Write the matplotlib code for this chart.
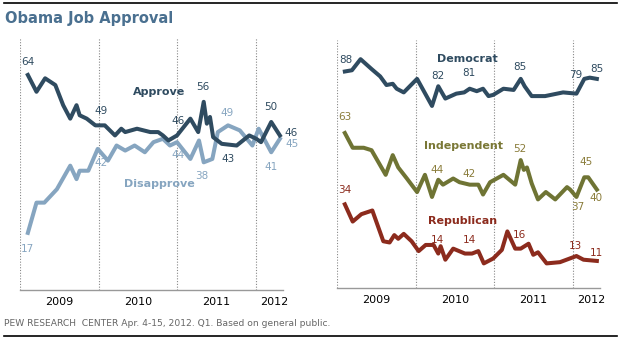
import matplotlib.pyplot as plt
from matplotlib.lines import Line2D

# survey dates as decimal years
approve_x = [2009.10, 2009.21, 2009.32, 2009.45, 2009.55, 2009.64, 2009.72, 2009.76,
             2009.85, 2009.96, 2010.08, 2010.21, 2010.29, 2010.34, 2010.49, 2010.66,
             2010.76, 2010.82, 2010.89, 2011.00, 2011.17, 2011.27, 2011.34, 2011.38,
             2011.42, 2011.46, 2011.57, 2011.76, 2011.92, 2012.01, 2012.07, 2012.20,
             2012.31]
approve = [64, 59, 63, 61, 55, 51, 55, 52, 51, 49, 49, 46, 48, 47, 48, 47,
           47, 46, 44.5, 46, 51, 47, 56, 49.5, 51.5, 45.5, 43.5, 43, 46, 45, 44, 50, 46]

disapprove_x = [2009.10, 2009.21, 2009.31, 2009.47, 2009.64, 2009.72, 2009.76, 2009.87,
                2009.99, 2010.12, 2010.23, 2010.34, 2010.46, 2010.59, 2010.70, 2010.82,
                2010.91, 2011.00, 2011.17, 2011.28, 2011.34, 2011.45, 2011.52, 2011.65,
                2011.80, 2011.96, 2012.04, 2012.20, 2012.31]
disapprove = [17, 26, 26, 30, 37, 33, 35.5, 35.5, 42, 38.5, 43, 41.5, 43, 41, 44, 45,
              43, 44, 39, 44.5, 38, 39, 47, 49, 47.5, 43, 48, 41, 45]

dem_x = [2009.10, 2009.19, 2009.30, 2009.44, 2009.55, 2009.63, 2009.71, 2009.76,
         2009.85, 2010.02, 2010.21, 2010.29, 2010.38, 2010.52, 2010.62, 2010.69,
         2010.78, 2010.86, 2010.93, 2010.99, 2011.12, 2011.25, 2011.34, 2011.39,
         2011.48, 2011.65, 2011.88, 2012.05, 2012.15, 2012.22, 2012.31]
dem = [88, 88.5, 93, 89, 86, 82.5, 83, 81, 79.5, 85, 74, 82, 77, 79, 79.5, 81,
       80, 81, 78, 78.5, 81, 80.5, 85, 82, 78, 78, 79.5, 79, 85, 85.5, 85]

ind_x = [2009.10, 2009.20, 2009.34, 2009.44, 2009.62, 2009.71, 2009.78, 2009.89,
         2010.02, 2010.12, 2010.21, 2010.29, 2010.35, 2010.48, 2010.56, 2010.69,
         2010.80, 2010.86, 2010.95, 2011.12, 2011.27, 2011.34, 2011.38, 2011.42,
         2011.48, 2011.56, 2011.66, 2011.78, 2011.93, 2011.97, 2012.05, 2012.15,
         2012.20, 2012.31]
ind = [63, 57, 57, 56, 46, 54, 49, 44.5, 39, 46, 37, 44, 42, 44.5, 43, 42,
       42, 38, 43, 46, 42, 52, 48, 49, 42.5, 36, 39, 36, 41, 40, 37, 45, 45, 40]

rep_x = [2009.10, 2009.20, 2009.31, 2009.45, 2009.59, 2009.67, 2009.73, 2009.78,
         2009.85, 2009.95, 2010.04, 2010.13, 2010.23, 2010.29, 2010.32, 2010.38,
         2010.48, 2010.63, 2010.72, 2010.80, 2010.87, 2010.99, 2011.10, 2011.17,
         2011.27, 2011.34, 2011.44, 2011.50, 2011.56, 2011.67, 2011.84, 2012.05,
         2012.14, 2012.31]
rep = [34, 27, 30, 31.5, 19, 18.5, 21.5, 20, 22, 19, 15, 17.5, 17.5, 14, 17, 11.5,
       16, 14, 14, 15, 10, 12, 15.5, 23, 16, 16, 18, 13.5, 14.5, 10, 10.5, 13, 11.5, 11]

year_ticks = [2009.5, 2010.5, 2011.5, 2012.24]
year_labels = ['2009', '2010', '2011', '2012']
dividers = [2009, 2010, 2011, 2012]

NAVY = '#2f4b60'
LIGHT = '#86a5c0'
OLIVE = '#6f7434'
OLIVE_TXT = '#8a7c3a'
RED = '#8c2b1d'

W, H = 621, 342
fig = plt.figure(figsize=(W / 100, H / 100), dpi=100)
fig.patch.set_facecolor('white')


def setup(ax, ymax):
    ax.set_xlim(2009.0, 2012.35)
    ax.set_ylim(0, ymax)
    for s in ['top', 'right', 'left']:
        ax.spines[s].set_visible(False)
    ax.spines['bottom'].set_color('#999999')
    ax.spines['bottom'].set_linewidth(1.0)
    ax.set_yticks([])
    ax.set_xticks(year_ticks)
    ax.set_xticklabels(year_labels, fontsize=8, color='black')
    ax.tick_params(axis='x', length=0, pad=5)
    for d in dividers:
        ax.axvline(d, color='#888888', lw=0.8, ls=(0, (1, 1.5)), zorder=1)


def label(ax, x, y, text, color, dx, dy):
    ax.annotate(text, (x, y), xytext=(dx, dy), textcoords='offset pixels',
                ha='center', va='center', fontsize=7.5, color=color)


lw = 2.9

# approval panel
ax1 = fig.add_axes([20 / W, 52 / H, 263 / W, 252 / H])
setup(ax1, 75)
ax1.plot(disapprove_x, disapprove, color=LIGHT, lw=lw, solid_joinstyle='round', zorder=3)
ax1.plot(approve_x, approve, color=NAVY, lw=lw, solid_joinstyle='round', zorder=4)
ax1.text(2010.77, 58.9, 'Approve', color=NAVY, fontsize=8, fontweight='bold',
         ha='center', va='center')
ax1.text(2010.77, 31.6, 'Disapprove', color=LIGHT, fontsize=8, fontweight='bold',
         ha='center', va='center')

label(ax1, approve_x[0], approve[0], '64', NAVY, 0, 13)
label(ax1, approve_x[9], approve[9], '49', NAVY, 6, 14)
label(ax1, approve_x[19], approve[19], '46', NAVY, 1, 14)
label(ax1, approve_x[22], approve[22], '56', NAVY, -1, 15)
label(ax1, approve_x[27], approve[27], '43', NAVY, -9, -13)
label(ax1, approve_x[31], approve[31], '50', NAVY, 0, 15)
label(ax1, approve_x[-1], approve[-1], '46', NAVY, 11, 2)

label(ax1, disapprove_x[0], disapprove[0], '17', LIGHT, 0, -16)
label(ax1, disapprove_x[8], disapprove[8], '42', LIGHT, 3, -14)
label(ax1, disapprove_x[17], disapprove[17], '44', LIGHT, 1, -13)
label(ax1, disapprove_x[20], disapprove[20], '38', LIGHT, -2, -14)
label(ax1, disapprove_x[23], disapprove[23], '49', LIGHT, -1, 12)
label(ax1, disapprove_x[27], disapprove[27], '41', LIGHT, 0, -15)
label(ax1, disapprove_x[-1], disapprove[-1], '45', LIGHT, 12, -5)

# party panel
ax2 = fig.add_axes([337 / W, 54 / H, 263 / W, 248 / H])
setup(ax2, 100.8)
ax2.plot(dem_x, dem, color=NAVY, lw=lw, solid_joinstyle='round', zorder=3)
ax2.plot(ind_x, ind, color=OLIVE, lw=lw, solid_joinstyle='round', zorder=3)
ax2.plot(rep_x, rep, color=RED, lw=lw, solid_joinstyle='round', zorder=3)
ax2.text(2010.66, 93, 'Democrat', color=NAVY, fontsize=8, fontweight='bold',
         ha='center', va='center')
ax2.text(2010.61, 57.7, 'Independent', color='#7a7836', fontsize=8, fontweight='bold',
         ha='center', va='center')
ax2.text(2010.60, 27.4, 'Republican', color=RED, fontsize=8, fontweight='bold',
         ha='center', va='center')

label(ax2, dem_x[0], dem[0], '88', NAVY, 1, 11)
label(ax2, dem_x[11], dem[11], '82', NAVY, 0, 10)
label(ax2, dem_x[15], dem[15], '81', NAVY, -1, 16)
label(ax2, dem_x[22], dem[22], '85', NAVY, -1, 12)
label(ax2, dem_x[27], dem[27], '79', NAVY, -1, 19)
label(ax2, dem_x[-1], dem[-1], '85', NAVY, 0, 10)

label(ax2, ind_x[0], ind[0], '63', OLIVE_TXT, 0, 16)
label(ax2, ind_x[11], ind[11], '44', OLIVE_TXT, -1, 10)
label(ax2, ind_x[15], ind[15], '42', OLIVE_TXT, -1, 11)
label(ax2, ind_x[21], ind[21], '52', OLIVE_TXT, -1, 11)
label(ax2, ind_x[30], ind[30], '37', OLIVE_TXT, 1, -10)
label(ax2, ind_x[31], ind[31], '45', OLIVE_TXT, 2, 15)
label(ax2, ind_x[-1], ind[-1], '40', OLIVE_TXT, -1, -8)

label(ax2, rep_x[0], rep[0], '34', RED, 0, 14)
label(ax2, rep_x[13], rep[13], '14', RED, -1, 14)
label(ax2, rep_x[18], rep[18], '14', RED, -3, 14)
label(ax2, rep_x[25], rep[25], '16', RED, -1, 14)
label(ax2, rep_x[31], rep[31], '13', RED, -1, 10)
label(ax2, rep_x[-1], rep[-1], '11', RED, 0, 8)

# title, rules and source note
fig.text(5 / W, 1 - 18.5 / H, 'Obama Job Approval', color='#4a7090', fontsize=10.5,
         fontweight='bold', ha='left', va='center')
fig.add_artist(Line2D([4 / W, 617 / W], [1 - 3 / H, 1 - 3 / H], color='black', lw=1.2))
fig.add_artist(Line2D([4 / W, 617 / W], [1 - 336 / H, 1 - 336 / H], color='black', lw=1.2))
fig.text(4 / W, 1 - 323 / H,
         'PEW RESEARCH  CENTER Apr. 4-15, 2012. Q1. Based on general public.',
         color='#666666', fontsize=6.6, ha='left', va='center')

fig.savefig('out.png', dpi=100, facecolor='white')
